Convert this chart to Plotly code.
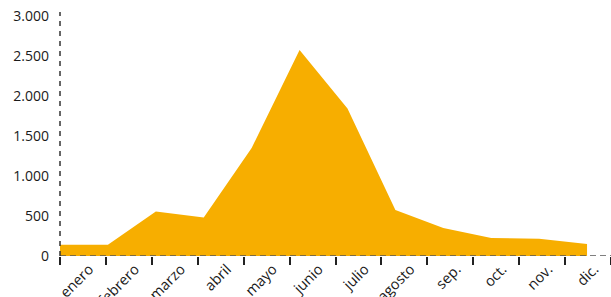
import plotly.graph_objects as go

months = ["enero", "febrero", "marzo", "abril", "mayo", "junio",
          "julio", "agosto", "sep.", "oct.", "nov.", "dic."]
values = [140, 140, 555, 480, 1350, 2575, 1845, 575, 350, 225, 215, 150]
y_ticks = [0, 500, 1000, 1500, 2000, 2500, 3000]
y_ticktext = ["0", "500", "1.000", "1.500", "2.000", "2.500", "3.000"]

n = len(months)
x_max = (n - 1) + 0.5
band = x_max / n
xs = list(range(n))
boundaries = [k * band for k in range(n + 1)]
label_pos = [(k + 0.5) * band + 0.13 for k in range(n)]

FONT = "Open Sans, Noto Sans, sans-serif"

fig = go.Figure()
fig.add_trace(go.Scatter(
    x=xs, y=values, mode="lines", fill="tozeroy",
    fillcolor="#F7AE00", line=dict(width=0, color="#F7AE00"),
    hoverinfo="skip", showlegend=False,
))
fig.add_trace(go.Scatter(x=label_pos, y=[0] * n, xaxis="x2", mode="markers",
                         marker=dict(opacity=0), hoverinfo="skip", showlegend=False))

fig.update_layout(
    width=611, height=297,
    margin=dict(l=60, r=0, t=12, b=41),
    paper_bgcolor="white", plot_bgcolor="white",
    font=dict(family=FONT, size=14, color="#1a1a1a"),
    xaxis=dict(range=[0, x_max], tickvals=boundaries, ticktext=[""] * (n + 1),
               ticks="outside", ticklen=8, tickwidth=1.5, tickcolor="#222",
               showgrid=False, zeroline=False, showline=False, fixedrange=True,
               automargin=False),
    xaxis2=dict(range=[0, x_max], overlaying="x", side="bottom",
                tickvals=label_pos, ticktext=months, tickangle=-45, ticks="",
                showgrid=False, zeroline=False, showline=False, automargin=False,
                ticklabelstandoff=1,
                tickfont=dict(family=FONT, size=14.5, color="#1a1a1a")),
    yaxis=dict(range=[0, 3050], tickvals=y_ticks, ticktext=y_ticktext,
               ticks="", showgrid=False, zeroline=False, showline=False,
               ticklabelstandoff=10, fixedrange=True, automargin=False),
    shapes=[
        dict(type="line", xref="paper", yref="y", x0=0, x1=1, y0=0, y1=0,
             line=dict(color="#555", width=1.5, dash="6px,4px")),
        dict(type="line", xref="paper", yref="paper", x0=0, x1=0, y0=0, y1=1,
             line=dict(color="#333", width=1.5, dash="5px,5px")),
    ],
)

fig.write_html("out.html", config={"displayModeBar": False},
               post_script="document.body.style.margin='0';document.body.style.overflow='hidden';")
